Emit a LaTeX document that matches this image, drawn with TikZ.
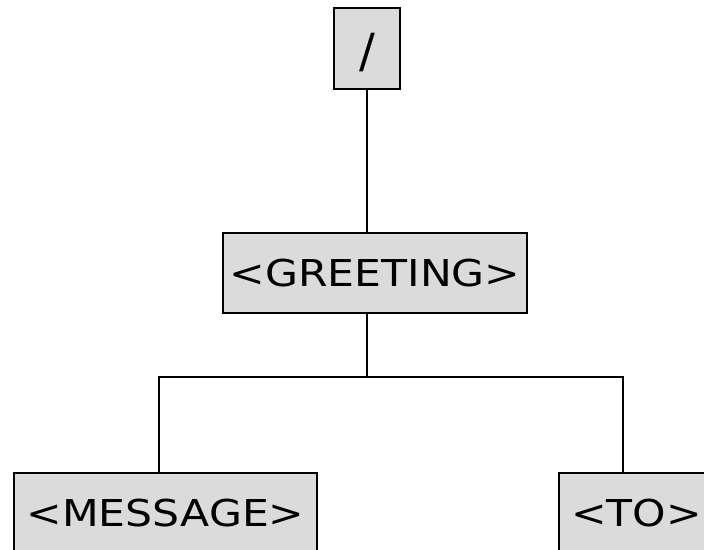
\documentclass[tikz,border=0pt]{standalone}
\usepackage{fontspec}
\newfontfamily\boxfont{DejaVu Sans}[FakeStretch=1.15]
\newfontfamily\slashfont{DejaVu Sans}
\begin{document}
\begin{tikzpicture}[x=1pt,y=-1pt,
  tbox/.style={draw=black, line width=2.9pt, fill=black!14, inner sep=0pt,
    font=\boxfont\fontsize{37}{44}\selectfont, anchor=center},
  conn/.style={draw=black, line width=2.9pt}]
\useasboundingbox (0,0) rectangle (704,549);
\clip (0,0) rectangle (704,549);
\node[tbox, minimum width=66pt, minimum height=81pt, text height=42.3pt, text depth=4.4pt,
  font=\slashfont\fontsize{47}{54}\selectfont] (slash) at (367,48.5) {/};
\node[tbox, minimum width=304pt, minimum height=80pt] (greet) at (375,273) {<GREETING>};
\node[tbox, minimum width=303pt, minimum height=80pt] (msg) at (165.5,513) {<MESSAGE>};
\node[tbox, minimum width=155pt, minimum height=80pt] (to) at (636.5,513) {<TO>};
\coordinate (bl) at (159,377);
\coordinate (br) at (623,377);
\draw[conn] (slash.south) -- (slash.south |- greet.north);
\draw[conn] (slash.south |- greet.south) -- (slash.south |- bl);
\draw[conn] (bl |- msg.north) -- (bl) -- (br) -- (br |- to.north);
\end{tikzpicture}
\end{document}
